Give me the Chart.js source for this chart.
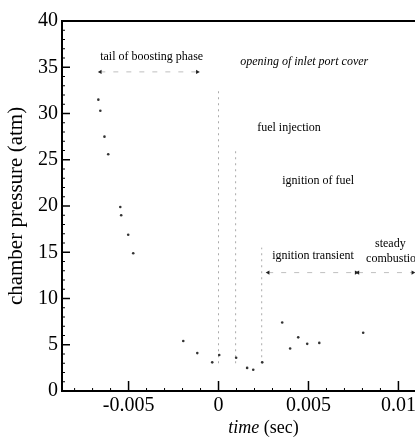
<!DOCTYPE html>
<html><head><meta charset="utf-8">
<script src="https://cdn.jsdelivr.net/npm/chart.js@4/dist/chart.umd.min.js"></script>
<style>
html,body{margin:0;padding:0;background:#fff;overflow:hidden;width:415px;height:440px}
#wrap{position:relative;width:480px;height:440px}
</style></head>
<body><div id="wrap"><canvas id="c" width="480" height="440"></canvas></div>
<script>
// measured pressure trace (sec, atm)
const timeSec     = [-0.00668,-0.00657,-0.00634,-0.00613,-0.00546,-0.00541,-0.00502,-0.00474,-0.00196,-0.00118,-0.00035,0.00004,0.00098,0.00159,0.00193,0.00243,0.00354,0.00398,0.00443,0.00493,0.0056,0.00804];
const pressureAtm = [31.5,30.3,27.5,25.6,19.9,19.0,16.9,14.9,5.4,4.1,3.1,3.9,3.6,2.5,2.3,3.1,7.4,4.6,5.8,5.1,5.2,6.3];

// event markers (vertical dotted lines)
const eventTimes = [0, 0.00095, 0.0024];
const eventTops  = [32.5, 26, 15.5];
const eventBottom = 3;

// phase arrows
const arrowFrom = [-0.00657, 0.00276, 0.00775];
const arrowTo   = [-0.00118, 0.00765, 0.0108];
const arrowP    = [34.5, 12.8, 12.8];

// annotation texts
const noteTexts = ["tail of boosting phase","opening of inlet port cover","fuel injection","ignition of fuel","ignition transient","steady","combustion"];
const noteT     = [-0.00658, 0.00121, 0.00215, 0.00354, 0.00298, 0.0087, 0.0082];
const noteP     = [36.1, 35.6, 28.4, 22.7, 14.6, 15.9, 14.3];
const noteItalic= [false, true, false, false, false, false, false];

// axes
const xTicks = [-0.005, 0, 0.005, 0.01];
const xTickLabels = ["-0.005","0","0.005","0.01"];
const yTicks = [0,5,10,15,20,25,30,35,40];
const yTickLabels = ["0","5","10","15","20","25","30","35","40"];
const xMin = -0.0087, xMax = 0.0137, yMin = 0, yMax = 40;

const SERIF = '"Liberation Serif","DejaVu Serif",serif';

const datasets = [];
datasets.push({
  label:'pressure', data: timeSec.map((t,i)=>({x:t,y:pressureAtm[i]})),
  showLine:false, pointRadius:1.3, pointBackgroundColor:'#333', pointBorderWidth:0
});
eventTimes.forEach((t,i)=>{
  datasets.push({label:'event'+i, data:[{x:t,y:eventBottom},{x:t,y:eventTops[i]}],
    showLine:true, borderColor:'#aaa', borderWidth:1, borderDash:[2,4], pointRadius:0});
});
arrowFrom.forEach((a,i)=>{
  datasets.push({label:'arrow'+i, data:[{x:a,y:arrowP[i]},{x:arrowTo[i],y:arrowP[i]}],
    showLine:true, borderColor:'rgba(0,0,0,0.25)', borderWidth:1, borderDash:[5,8],
    pointStyle:'triangle', pointRadius:2.5, pointBackgroundColor:'#222', pointBorderWidth:0,
    pointRotation: ctx => ctx.dataIndex===0 ? 270 : 90});
});

const decor = {
  id:'decor',
  afterDraw(chart){
    const ctx = chart.ctx, a = chart.chartArea;
    const xs = chart.scales.x, ys = chart.scales.y;
    ctx.save();
    ctx.strokeStyle = '#000';
    ctx.lineWidth = 2;
    ctx.strokeRect(a.left, a.top, a.right-a.left, a.bottom-a.top);
    ctx.lineWidth = 1.5;
    ctx.beginPath();
    yTicks.forEach(v=>{const y=ys.getPixelForValue(v); ctx.moveTo(a.left,y); ctx.lineTo(a.left+8,y);});
    xTicks.forEach(v=>{const x=xs.getPixelForValue(v); ctx.moveTo(x,a.bottom); ctx.lineTo(x,a.bottom-10);});
    ctx.stroke();
    ctx.lineWidth = 1;
    ctx.beginPath();
    for(let v=yMin; v<=yMax; v++){ if(v%5===0) continue; const y=ys.getPixelForValue(v); ctx.moveTo(a.left,y); ctx.lineTo(a.left+3,y);}
    for(let k=-8; k<=13; k++){ if(k%5===0) continue; const x=xs.getPixelForValue(k*0.001); ctx.moveTo(x,a.bottom); ctx.lineTo(x,a.bottom-3);}
    ctx.stroke();
    // annotations
    ctx.fillStyle = '#000';
    ctx.textBaseline = 'middle';
    ctx.textAlign = 'left';
    noteTexts.forEach((s,i)=>{
      ctx.font = (noteItalic[i]?'italic ':'') + '12px ' + SERIF;
      ctx.fillText(s, xs.getPixelForValue(noteT[i]), ys.getPixelForValue(noteP[i]));
    });
    // x title with italic "time"
    const p1 = 'time', p2 = ' (sec)';
    ctx.font = 'italic 18px ' + SERIF; const w1 = ctx.measureText(p1).width;
    ctx.font = '18px ' + SERIF; const w2 = ctx.measureText(p2).width;
    const cx = (a.left + a.right)/2, x0 = cx - (w1+w2)/2, ty = 428;
    ctx.font = 'italic 18px ' + SERIF; ctx.fillText(p1, x0, ty);
    ctx.font = '18px ' + SERIF; ctx.fillText(p2, x0 + w1, ty);
    ctx.restore();
  }
};

new Chart(document.getElementById('c'), {
  type:'scatter',
  data:{datasets},
  plugins:[decor],
  options:{
    responsive:false, animation:false, devicePixelRatio:1,
    layout:{padding:{top:21,left:0,right:15,bottom:0}},
    plugins:{legend:{display:false}, tooltip:{enabled:false}},
    scales:{
      x:{type:'linear', min:xMin, max:xMax,
        afterBuildTicks: s => { s.ticks = xTicks.map(v=>({value:v})); },
        afterFit: s => { s.height = 49; },
        grid:{display:false, drawTicks:false}, border:{display:false},
        ticks:{autoSkip:false, maxRotation:0, padding:3, color:'#000',
          font:{family:SERIF, size:20},
          callback:(v,i)=>xTickLabels[i]},
        title:{display:false}
      },
      y:{type:'linear', min:yMin, max:yMax,
        afterBuildTicks: s => { s.ticks = yTicks.map(v=>({value:v})); },
        afterFit: s => { s.width = 62; },
        grid:{display:false, drawTicks:false}, border:{display:false},
        ticks:{autoSkip:false, padding:4, color:'#000',
          font:{family:SERIF, size:20},
          callback:(v,i)=>yTickLabels[i]},
        title:{display:true, text:'chamber pressure (atm)', color:'#000',
          font:{family:SERIF, size:21}, padding:{top:4,bottom:0}}
      }
    }
  }
});
</script>
</body></html>
